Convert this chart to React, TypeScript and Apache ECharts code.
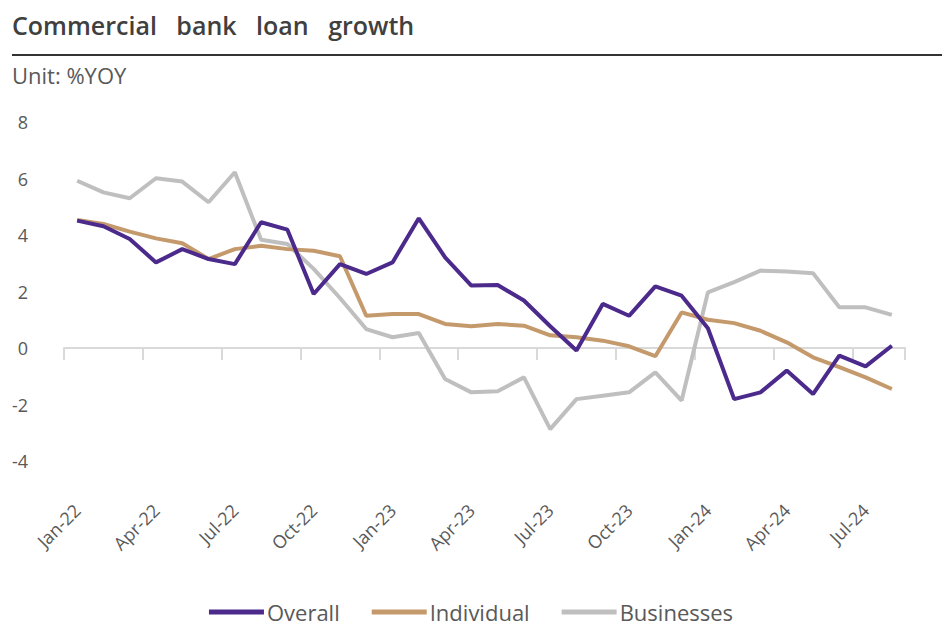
import React, { useEffect, useRef } from "react";
import * as echarts from "echarts";

const months = [
  "Jan-22","Feb-22","Mar-22","Apr-22","May-22","Jun-22","Jul-22","Aug-22","Sep-22","Oct-22","Nov-22","Dec-22",
  "Jan-23","Feb-23","Mar-23","Apr-23","May-23","Jun-23","Jul-23","Aug-23","Sep-23","Oct-23","Nov-23","Dec-23",
  "Jan-24","Feb-24","Mar-24","Apr-24","May-24","Jun-24","Jul-24","Aug-24",
];

const overall = [
  4.51, 4.31, 3.86, 3.03, 3.5, 3.15, 2.97, 4.45, 4.19, 1.91, 2.97, 2.62,
  3.03, 4.59, 3.21, 2.21, 2.23, 1.68, 0.77, -0.09, 1.56, 1.14, 2.18, 1.85,
  0.7, -1.81, -1.57, -0.8, -1.63, -0.27, -0.65, 0.08,
];

const individual = [
  4.53, 4.39, 4.12, 3.88, 3.71, 3.15, 3.5, 3.62, 3.5, 3.44, 3.25, 1.14,
  1.2, 1.2, 0.85, 0.77, 0.85, 0.79, 0.45, 0.38, 0.26, 0.06, -0.29, 1.26,
  1.0, 0.88, 0.61, 0.2, -0.33, -0.68, -1.04, -1.45,
];

const businesses = [
  5.92, 5.51, 5.3, 6.01, 5.89, 5.16, 6.22, 3.83, 3.68, 2.8, 1.77, 0.67,
  0.38, 0.53, -1.1, -1.57, -1.53, -1.04, -2.87, -1.81, -1.69, -1.57, -0.86, -1.86,
  1.97, 2.33, 2.74, 2.71, 2.65, 1.44, 1.44, 1.17,
];

const FONT = "'Open Sans', sans-serif";

export default function App() {
  const ref = useRef<HTMLDivElement>(null);
  useEffect(() => {
    if (!ref.current) return;
    const chart = echarts.init(ref.current, null, { renderer: "svg" });
    chart.setOption({
      animation: false,
      backgroundColor: "#ffffff",
      textStyle: { fontFamily: FONT },
      title: [
        {
          text: "Commercial   bank   loan   growth",
          left: 12,
          top: 12,
          padding: 0,
          textStyle: { fontFamily: FONT, fontSize: 25, fontWeight: 600, color: "#404040" },
        },
        {
          text: "Unit: %YOY",
          left: 12,
          top: 64,
          padding: 0,
          textStyle: { fontFamily: FONT, fontSize: 22, fontWeight: 400, color: "#595959" },
        },
      ],
      graphic: [
        {
          type: "line",
          shape: { x1: 12, y1: 55, x2: 942, y2: 55 },
          style: { stroke: "#333333", lineWidth: 2 },
        },
      ],
      legend: {
        top: 601,
        left: "center",
        icon: "rect",
        itemWidth: 55,
        itemHeight: 5,
        itemGap: 32,
        padding: 0,
        textStyle: {
          fontFamily: FONT,
          fontSize: 22,
          lineHeight: 22,
          color: "#595959",
          padding: [0, 0, 0, -2],
        },
        data: ["Overall", "Individual", "Businesses"],
      },
      grid: { left: 64, right: 37, top: 122, bottom: 165, containLabel: false, outerBoundsMode: "none" },
      xAxis: {
        type: "category",
        data: months,
        boundaryGap: true,
        axisLine: { onZero: true, lineStyle: { color: "#d9d9d9", width: 2 } },
        axisTick: {
          show: true,
          interval: (index: number) => index % 3 === 0,
          length: 12,
          lineStyle: { color: "#d9d9d9", width: 2 },
        },
        axisLabel: {
          interval: 2,
          rotate: 45,
          margin: 46,
          fontFamily: FONT,
          fontSize: 18,
          color: "#595959",
        },
        splitLine: { show: false },
      },
      yAxis: {
        type: "value",
        min: -4,
        max: 8,
        interval: 2,
        axisLine: { show: false },
        axisTick: { show: false },
        splitLine: { show: false },
        axisLabel: { margin: 36, fontFamily: FONT, fontSize: 18, color: "#595959" },
      },
      series: [
        {
          name: "Overall",
          type: "line",
          data: overall,
          showSymbol: false,
          symbol: "none",
          lineStyle: { color: "#4b2a8c", width: 4 },
          itemStyle: { color: "#4b2a8c" },
          z: 3,
        },
        {
          name: "Individual",
          type: "line",
          data: individual,
          showSymbol: false,
          symbol: "none",
          lineStyle: { color: "#c49a6c", width: 4 },
          itemStyle: { color: "#c49a6c" },
          z: 2,
        },
        {
          name: "Businesses",
          type: "line",
          data: businesses,
          showSymbol: false,
          symbol: "none",
          lineStyle: { color: "#bfbfbf", width: 4 },
          itemStyle: { color: "#bfbfbf" },
          z: 1,
        },
      ],
    });
    return () => chart.dispose();
  }, []);
  return (
    <div
      ref={ref}
      style={{ position: "fixed", left: 0, top: 0, width: 942, height: 626 }}
    />
  );
}
